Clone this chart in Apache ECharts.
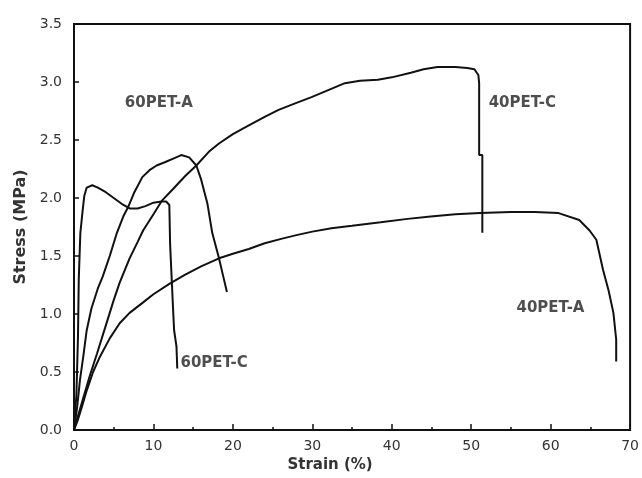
<!DOCTYPE html>
<html>
<head>
<meta charset="utf-8">
<script src="https://cdn.jsdelivr.net/npm/echarts@6/dist/echarts.min.js"></script>
<style>
html,body{margin:0;padding:0;background:#fff;}
#main{width:642px;height:478px;}
</style>
</head>
<body>
<div id="main"></div>
<script>
// stress-strain curves, [strain %, stress MPa]
var pet60A = [[0,0],[0.4,0.2],[0.75,0.43],[1.2,0.65],[1.6,0.86],[2.2,1.05],[3,1.22],[3.6,1.32],[4.5,1.5],[5.4,1.70],[6.2,1.84],[6.8,1.92],[7.6,2.05],[8.6,2.18],[9.5,2.24],[10.4,2.28],[11.5,2.31],[12.5,2.34],[13.5,2.37],[14.5,2.35],[15.4,2.28],[16,2.16],[16.8,1.95],[17.4,1.70],[18.25,1.48],[18.8,1.32],[19.25,1.19]];
var pet60C = [[0,0],[0.3,0.3],[0.5,0.8],[0.6,1.3],[0.8,1.7],[1.1,1.9],[1.3,2.02],[1.6,2.09],[2.3,2.11],[3,2.09],[4,2.05],[5,2.0],[6,1.95],[7,1.91],[8,1.91],[9,1.93],[10,1.96],[11,1.97],[11.6,1.97],[12,1.94],[12.1,1.6],[12.3,1.3],[12.5,1.0],[12.6,0.86],[12.9,0.72],[13,0.53]];
var pet40C = [[0,0],[0.5,0.12],[1.1,0.26],[2,0.47],[2.9,0.66],[4,0.9],[5,1.12],[5.75,1.27],[7,1.48],[8,1.62],[8.7,1.72],[10,1.86],[11.1,1.98],[12.5,2.08],[14,2.19],[15.4,2.28],[17,2.40],[18.25,2.47],[20,2.55],[21.6,2.61],[24,2.70],[25.75,2.76],[28,2.82],[29.9,2.87],[32,2.93],[34.1,2.99],[36,3.01],[38.25,3.02],[40,3.04],[42.4,3.08],[44,3.11],[45.75,3.13],[48,3.13],[49.5,3.12],[50.4,3.11],[50.9,3.06],[51,2.99],[51,2.37],[51.4,2.37],[51.4,1.70]];
var pet40A = [[0,0],[0.5,0.09],[1,0.2],[1.6,0.34],[2.4,0.5],[3.25,0.63],[4.5,0.79],[5.75,0.92],[7,1.01],[8.7,1.1],[10,1.17],[12,1.26],[14,1.34],[16,1.41],[18.25,1.48],[20,1.52],[22,1.56],[24,1.61],[26.2,1.65],[28,1.68],[30,1.71],[32.4,1.74],[35,1.76],[38.6,1.79],[42,1.82],[44.9,1.84],[48,1.86],[51.1,1.87],[55,1.88],[58,1.88],[61,1.87],[63.6,1.81],[64.9,1.72],[65.75,1.64],[66.6,1.38],[67.3,1.2],[67.9,1.01],[68.25,0.78],[68.25,0.59]];

// curve labels, anchored in data coords (left edge of text)
var labelNames = ['60PET-A','40PET-C','40PET-A','60PET-C'];
var labelCoords = [[6.4,2.82],[52.2,2.82],[55.7,1.05],[13.4,0.58]];

var chart = echarts.init(document.getElementById('main'));

function curve(name, data){
	return {name:name, type:'line', data:data, symbol:'none', smooth:false,
		lineStyle:{color:'#111', width:2}, z:3, silent:true};
}

var labelData = [];
for(var i=0;i<labelNames.length;i++){
	labelData.push({value:labelCoords[i], name:labelNames[i]});
}

var option = {
	animation:false,
	backgroundColor:'#fff',
	grid:{left:74, top:24, right:8, bottom:48, show:true, borderColor:'#111', borderWidth:2},
	xAxis:{
		type:'value', min:0, max:70, interval:10,
		name:'Strain (%)', nameLocation:'middle', nameGap:27,
		nameTextStyle:{fontFamily:'DejaVu Sans', fontSize:15, fontWeight:'bold', color:'#333', padding:[0,44,0,0]},
		axisLine:{show:true, lineStyle:{color:'#111', width:2}},
		axisTick:{show:true, inside:true, length:6, lineStyle:{color:'#111', width:1.5}},
		minorTick:{show:true, splitNumber:2, length:3, lineStyle:{color:'#111', width:1.5}},
		axisLabel:{fontFamily:'DejaVu Sans', fontSize:14, color:'#333', margin:9},
		splitLine:{show:false}
	},
	yAxis:{
		type:'value', min:0, max:3.5, interval:0.5,
		name:'Stress (MPa)', nameLocation:'middle', nameGap:44,
		nameTextStyle:{fontFamily:'DejaVu Sans', fontSize:16, fontWeight:'bold', color:'#333'},
		axisLine:{show:true, lineStyle:{color:'#111', width:2}},
		axisTick:{show:true, inside:true, length:5, lineStyle:{color:'#111', width:1.5}},
		axisLabel:{fontFamily:'DejaVu Sans', fontSize:14, color:'#333', margin:12,
			formatter:function(v){return v.toFixed(1);}},
		splitLine:{show:false}
	},
	series:[
		curve('60PET-A', pet60A),
		curve('60PET-C', pet60C),
		curve('40PET-C', pet40C),
		curve('40PET-A', pet40A),
		{
			type:'scatter', data:labelData, symbolSize:0, silent:true, z:4,
			label:{show:true, position:'right', distance:0, formatter:'{b}',
				fontFamily:'DejaVu Sans', fontSize:15, fontWeight:'bold', color:'#222'}
		}
	]
};

chart.setOption(option);
</script>
</body>
</html>
